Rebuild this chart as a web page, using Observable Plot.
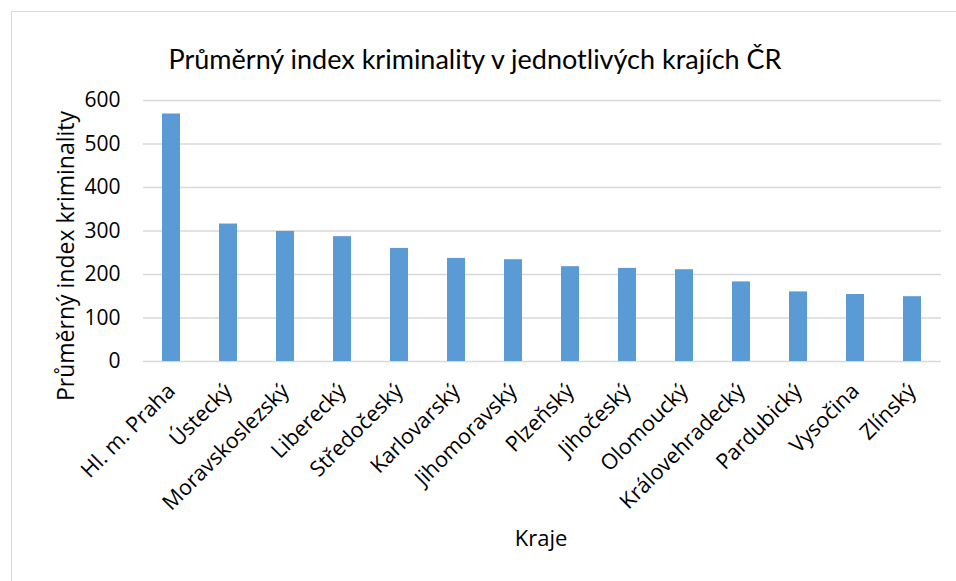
<!DOCTYPE html>
<html>
<head>
<meta charset="utf-8">
<script src="https://cdn.jsdelivr.net/npm/d3@7"></script>
<script src="https://cdn.jsdelivr.net/npm/@observablehq/plot@0.6"></script>
<style>
  html, body { margin: 0; padding: 0; background: #fff; }
  body { width: 956px; height: 581px; position: relative; overflow: hidden; font-family: "Open Sans", sans-serif; color: #000; }
  #frame { position: absolute; left: 11px; top: 11px; width: 960px; height: 600px; border: 1px solid #d9d9d9; box-sizing: border-box; }
  #title { position: absolute; left: -3px; width: 956px; top: 45px; text-align: center; font-family: Lato, sans-serif; font-size: 27px; line-height: 1; white-space: nowrap; }
  #ylabel { position: absolute; left: 65px; top: 256px; transform: translate(-50%, -50%) rotate(-90deg); font-size: 23px; white-space: nowrap; line-height: 1; }
  #xlabel { position: absolute; left: 541px; top: 526px; transform: translateX(-50%); font-size: 22px; white-space: nowrap; line-height: 1; }
  #chart { position: absolute; left: 0; top: 85px; }
</style>
</head>
<body>
<div id="frame"></div>
<div id="title"></div>
<div id="ylabel"></div>
<div id="xlabel"></div>
<div id="chart"></div>
<script>
const titleText = "Průměrný index kriminality v jednotlivých krajích ČR";
const yLabelText = "Průměrný index kriminality";
const xLabelText = "Kraje";

const kraje = ["Hl. m. Praha", "Ústecký", "Moravskoslezský", "Liberecký", "Středočeský", "Karlovarský", "Jihomoravský", "Plzeňský", "Jihočeský", "Olomoucký", "Královehradecký", "Pardubický", "Vysočina", "Zlínský"];
const hodnoty = [569, 316, 299, 287, 260, 237, 234, 218, 214, 211, 183, 160, 154, 149];
const yTicks = [0, 100, 200, 300, 400, 500, 600];

const data = kraje.map((k, i) => ({kraj: k, value: hodnoty[i]}));

document.getElementById("title").textContent = titleText;
document.getElementById("ylabel").textContent = yLabelText;
document.getElementById("xlabel").textContent = xLabelText;

const chart = Plot.plot({
  width: 956,
  height: 496,
  marginTop: 15,
  marginBottom: 220,
  marginLeft: 143,
  marginRight: 15,
  style: { fontFamily: "'Open Sans', sans-serif", fontSize: "21px", color: "#000", background: "transparent" },
  x: { domain: kraje, paddingInner: 0.684, paddingOuter: 0.342, label: null },
  y: { domain: [0, 600], label: null },
  marks: [
    Plot.gridY(yTicks, { stroke: "#d9d9d9", strokeOpacity: 1, strokeWidth: 1.5 }),
    Plot.barY(data, { x: "kraj", y: "value", fill: "#5b9bd5" }),
    Plot.axisY(yTicks, { tickSize: 0, tickPadding: 23, label: null, fontSize: 21 }),
    Plot.axisX({ tickSize: 0, tickRotate: -45, tickPadding: 26, label: null, fontSize: 21.5 })
  ]
});
document.getElementById("chart").appendChild(chart);
</script>
</body>
</html>
